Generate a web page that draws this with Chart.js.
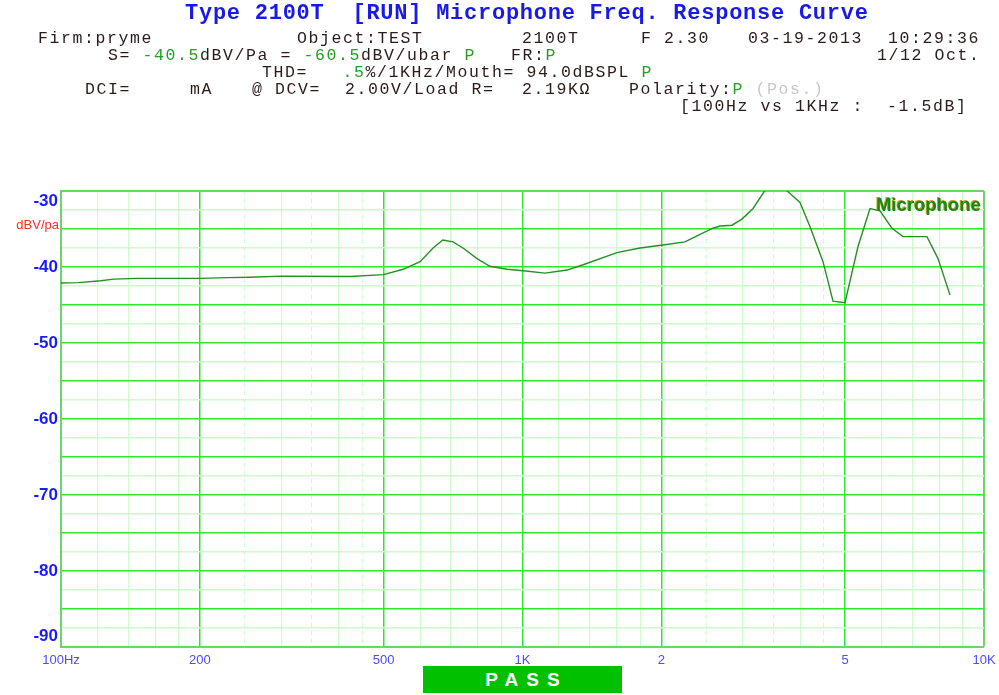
<!DOCTYPE html>
<html>
<head>
<meta charset="utf-8">
<script src="https://cdn.jsdelivr.net/npm/chart.js@4/dist/chart.umd.min.js"></script>
<style>
  body { margin: 0; background: #fff; }
  #wrap { position: relative; width: 999px; height: 695px; overflow: hidden; }
  canvas { position: absolute; left: 0; top: 0; }
  .t { position: absolute; white-space: pre; font-family: "Liberation Mono", "DejaVu Sans Mono", monospace;
       font-size: 16.5px; letter-spacing: 1.6px; line-height: 17px; color: #2b1b1b; }
  .g { color: #22a022; }
  .l { color: #c8c8c8; }
  #title { font-weight: bold; font-size: 22px; letter-spacing: 0.75px; line-height: 26px; color: #1a1ae8; }
  #unit { position: absolute; left: 0; width: 59px; top: 217px; text-align: right;
          font: 13px "Liberation Sans", Arial, sans-serif; color: #ff2a2a; }
  #pass { position: absolute; left: 423px; top: 666px; width: 199px; height: 27px; background: #00c000;
          color: #fff; font: bold 19px "Liberation Sans", Arial, sans-serif; letter-spacing: 8px;
          text-align: center; line-height: 28px; text-indent: 8px; }
</style>
</head>
<body>
<div id="wrap">
  <canvas id="chart" width="999" height="695"></canvas>
  <div class="t" id="title" style="left:185px;top:1px">Type 2100T  [RUN] Microphone Freq. Response Curve</div>

  <div class="t" style="left:38px;top:30px">Firm:pryme</div>
  <div class="t" style="left:297px;top:30px">Object:TEST</div>
  <div class="t" style="left:522px;top:30px">2100T</div>
  <div class="t" style="left:641px;top:30px">F 2.30</div>
  <div class="t" style="left:748px;top:30px">03-19-2013</div>
  <div class="t" style="left:888px;top:30px">10:29:36</div>

  <div class="t" style="left:108px;top:47px">S= <span class="g">-40.5</span>dBV/Pa = <span class="g">-60.5</span>dBV/ubar <span class="g">P</span></div>
  <div class="t" style="left:511px;top:47px">FR:<span class="g">P</span></div>
  <div class="t" style="left:877px;top:47px">1/12 Oct.</div>

  <div class="t" style="left:262px;top:64px">THD=   <span class="g">.5</span>%/1KHz/Mouth= 94.0dBSPL <span class="g">P</span></div>

  <div class="t" style="left:85px;top:81px">DCI=</div>
  <div class="t" style="left:190px;top:81px">mA</div>
  <div class="t" style="left:252px;top:81px">@ DCV=</div>
  <div class="t" style="left:345px;top:81px">2.00V/Load R=</div>
  <div class="t" style="left:522px;top:81px">2.19KΩ</div>
  <div class="t" style="left:629px;top:81px">Polarity:<span class="g">P</span> <span class="l">(Pos.)</span></div>

  <div class="t" style="left:680px;top:98px">[100Hz vs 1KHz :  -1.5dB]</div>

  <div id="unit">dBV/pa</div>
  <div id="pass">PASS</div>
</div>

<script>
// response curve
const freqs = [100, 109, 122, 130, 146, 200, 230, 257, 300, 423, 500, 551, 600, 640, 672, 707, 743,
  797, 850, 926, 1003, 1119, 1249, 1353, 1602, 1797, 2016, 2250, 2424, 2587, 2679, 2844, 2989, 3159,
  3320, 3490, 3761, 3993, 4198, 4479, 4708, 4998, 5333, 5662, 5951, 6318, 6675, 7523, 7950, 8441];
const levels = [-42.1, -42.05, -41.8, -41.6, -41.5, -41.5, -41.4, -41.35, -41.2, -41.25, -41.0, -40.3,
  -39.3, -37.5, -36.45, -36.7, -37.5, -38.9, -39.9, -40.3, -40.5, -40.8, -40.4, -39.7, -38.1, -37.5,
  -37.1, -36.7, -35.7, -34.9, -34.6, -34.5, -33.7, -32.3, -30.3, -28.4, -30.1, -31.5, -34.7, -39.3,
  -44.5, -44.7, -37.3, -32.3, -32.6, -34.9, -36.0, -36.0, -38.9, -43.7];

// x grid / tick labels
const xGrid = [100, 120, 140, 160, 180, 200, 250, 300, 350, 400, 450, 500, 600, 700, 800, 900,
  1000, 1200, 1400, 1600, 1800, 2000, 2500, 3000, 3500, 4000, 4500, 5000, 6000, 7000, 8000, 9000, 10000];
const xMajor = [200, 500, 1000, 2000, 5000];
const xDashed = [250, 350, 450, 2500, 3500, 4500];
const xLabels = { 100: '100Hz', 200: '200', 500: '500', 1000: '1K', 2000: '2', 5000: '5', 10000: '10K' };
const yLabels = { '-30': ['', '-30'], '-40': '-40', '-50': '-50', '-60': '-60', '-70': '-70', '-80': '-80', '-90': ['-90', ''] };

const FRAME = '#6ad66a';
const BRIGHT = '#2ee82e';
const LIGHT = '#ccfccc';

const legendLabel = {
  id: 'legendLabel',
  afterDraw(chart) {
    const { ctx, chartArea } = chart;
    ctx.save();
    ctx.font = 'bold 18.5px "Liberation Sans", Arial, sans-serif';
    ctx.textAlign = 'right';
    ctx.textBaseline = 'middle';
    ctx.fillStyle = '#b8a020';
    ctx.fillText(chart.data.datasets[0].label, chartArea.right - 4, chartArea.top + 14);
    ctx.fillStyle = '#148a14';
    ctx.fillText(chart.data.datasets[0].label, chartArea.right - 3, chartArea.top + 15);
    ctx.restore();
  }
};

new Chart(document.getElementById('chart'), {
  type: 'line',
  data: {
    datasets: [{
      label: 'Microphone',
      data: freqs.map((f, i) => ({ x: f, y: levels[i] })),
      borderColor: '#259025',
      borderWidth: 1.4,
      pointRadius: 0,
      tension: 0,
      fill: false
    }]
  },
  options: {
    responsive: false,
    animation: false,
    devicePixelRatio: 1,
    layout: { padding: { left: 0, top: 191, right: 15, bottom: 0 } },
    plugins: { legend: { display: false }, tooltip: { enabled: false } },
    scales: {
      x: {
        type: 'logarithmic',
        min: 100,
        max: 10000,
        afterBuildTicks: s => { s.ticks = xGrid.map(v => ({ value: v })); },
        afterFit: s => { s.height = 48; s.paddingLeft = 0; s.paddingRight = 0; },
        ticks: {
          autoSkip: false,
          maxRotation: 0,
          padding: 6,
          color: '#4b4bff',
          font: { family: '"Liberation Sans", Arial, sans-serif', size: 13 },
          callback: v => xLabels[v] || ''
        },
        grid: {
          drawTicks: false,
          color: c => {
            const v = c.tick && c.tick.value;
            if (v === 100 || v === 10000) return FRAME;
            return xMajor.includes(v) ? BRIGHT : LIGHT;
          },
          lineWidth: c => {
            const v = c.tick && c.tick.value;
            if (v === 10000) return 2;
            return xMajor.includes(v) ? 1.5 : 1.2;
          }
        },
        border: {
          color: FRAME,
          width: 2,
          dash: c => (c.tick && xDashed.includes(c.tick.value)) ? [4, 4] : []
        }
      },
      y: {
        min: -90,
        max: -30,
        afterBuildTicks: s => {
          const t = [];
          for (let v = -90; v <= -30; v += 2.5) t.push({ value: v });
          s.ticks = t;
        },
        afterFit: s => { s.width = 61; },
        ticks: {
          autoSkip: false,
          padding: 3,
          color: '#1a1aff',
          font: { family: '"Liberation Sans", Arial, sans-serif', size: 17, weight: 'bold' },
          callback: v => yLabels[String(v)] || ''
        },
        grid: {
          drawTicks: false,
          color: c => {
            const v = c.tick && c.tick.value;
            if (v === -30 || v === -90) return FRAME;
            return (v % 5 === 0) ? BRIGHT : LIGHT;
          },
          lineWidth: c => {
            const v = c.tick && c.tick.value;
            return v === -30 ? 2 : 1.5;
          }
        },
        border: { color: FRAME, width: 2 }
      }
    }
  },
  plugins: [legendLabel]
});
</script>
</body>
</html>
